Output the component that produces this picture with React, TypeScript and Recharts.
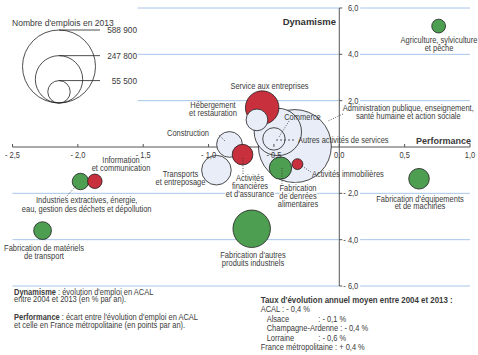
import React from 'react'
import { ScatterChart, Scatter, XAxis, YAxis, ZAxis, ReferenceLine } from 'recharts'

// sectors, biggest first so the small bubbles sit on top
const sectors = [
  'Administration publique, enseignement, santé humaine et action sociale',
  'Commerce',
  "Fabrication d'autres produits industriels",
  'Service aux entreprises',
  'Transports et entreposage',
  'Construction',
  'Autres activités de services',
  'Fabrication de denrées alimentaires',
  'Hébergement et restauration',
  "Activités financières et d'assurance",
  "Fabrication d'équipements et de machines",
  'Fabrication de matériels de transport',
  'Industries extractives, énergie, eau, gestion des déchets et dépollution',
  'Information et communication',
  'Agriculture, sylviculture et pêche',
  'Activités immobilières',
]
const performance = [-0.34, -0.47, -0.67, -0.59, -0.94, -0.84, -0.5, -0.45, -0.63, -0.74, 0.61, -2.27, -1.98, -1.87, 0.76, -0.32]
const dynamism = [0.04, 0.65, -3.53, 1.7, -1.0, 0.11, 0.35, -0.91, 1.17, -0.33, -1.37, -3.61, -1.49, -1.48, 5.22, -0.74]
const jobs = [588900, 247800, 155000, 124000, 97000, 73000, 55500, 55000, 52000, 47000, 47000, 35000, 30000, 23000, 21000, 13000]
const groups = ['pale', 'pale', 'green', 'red', 'pale', 'pale', 'pale', 'green', 'pale', 'red', 'green', 'green', 'green', 'red', 'green', 'red']

const legendJobs = [588900, 247800, 55500]
const legendLabels = ['588 900', '247 800', '55 500']

const xTicks = [-2.5, -2, -1.5, -1, -0.5, 0, 0.5, 1]
const xTickLabels = ['- 2,5', '- 2,0', '- 1,5', '- 1,0', '- 0,5', '0,0', '0,5', '1,0']
const yTicks = [6, 4, 2, -2, -4, -6]
const yTickLabels = ['6,0', '4,0', '2,0', '- 2,0', '- 4,0', '- 6,0']

const FILL: Record<string, string> = { pale: '#e8edf7', red: '#c8303d', green: '#4e9e52' }
const FONT = "'Liberation Sans', Arial, sans-serif"
const TXT = '#3a3a3a'
const GRID = '#a6c6e8'
const MAX_R = 36.5
const SX = 0.88 // no narrow font installed, squeeze horizontally

const data = sectors.map((name, i) => ({
  name,
  perf: performance[i],
  dyn: dynamism[i],
  jobs: jobs[i],
  group: groups[i],
}))

function Bubble(props: any) {
  const { cx, cy, payload } = props
  const r = typeof props.size === 'number' ? Math.sqrt(props.size / Math.PI) : props.width / 2
  return <circle cx={cx} cy={cy} r={r} fill={FILL[payload.group]} stroke="#1e1e1e" strokeWidth={0.8} />
}

function Lbl({ x, y, lines, anchor = 'middle', lh = 8, halo = false, size = 8.5, bold = false, sx = SX }: any) {
  return (
    <text
      transform={`translate(${x} ${y}) scale(${sx} 1)`} textAnchor={anchor} fontSize={size}
      fontWeight={bold ? 'bold' : 'normal'} fill={TXT} fontFamily={FONT}
      stroke={halo ? '#fff' : 'none'} strokeWidth={halo ? 2.5 : 0} paintOrder="stroke"
    >
      {lines.map((l: string, i: number) => (
        <tspan key={i} x={0} dy={i === 0 ? 0 : lh}>{l}</tspan>
      ))}
    </text>
  )
}

const leader = { stroke: '#333', strokeWidth: 0.8, strokeDasharray: '1 1.5' }

export default function App() {
  return (
    <div style={{ position: 'absolute', left: 0, top: 0, width: 478, height: 355, background: '#fff', fontFamily: FONT }}>
      <ScatterChart width={478} height={355} margin={{ top: 8, right: 8, bottom: 69, left: 12.5 }}>
        <XAxis type="number" dataKey="perf" domain={[-2.5, 1]} hide allowDataOverflow />
        <YAxis type="number" dataKey="dyn" domain={[-6, 6]} hide allowDataOverflow />
        <ZAxis type="number" dataKey="jobs" domain={[0, 588900]} range={[0, Math.PI * MAX_R * MAX_R]} />

        {yTicks.map(t => (
          <ReferenceLine key={`gl${t}`} zIndex={-50} ifOverflow="visible" stroke={GRID} strokeWidth={1}
            segment={[{ x: t > 0 ? -1.542 : -2.5, y: t }, { x: 0, y: t }]} />
        ))}
        {yTicks.map(t => (
          <ReferenceLine key={`gr${t}`} zIndex={-50} ifOverflow="visible" stroke={GRID} strokeWidth={1}
            segment={[{ x: 0.16, y: t }, { x: 1, y: t }]} />
        ))}
        <ReferenceLine zIndex={-40} ifOverflow="visible" stroke="#555" strokeWidth={1}
          segment={[{ x: 0, y: -6 }, { x: 0, y: 6 }]} />
        <ReferenceLine zIndex={-40} ifOverflow="visible" stroke="#555" strokeWidth={1}
          segment={[{ x: -2.5, y: 0 }, { x: 1, y: 0 }]} />

        <Scatter data={data} dataKey="dyn" shape={Bubble} isAnimationActive={false} />

        {xTicks.map((t, i) => (
          <ReferenceLine key={`xt${t}`} zIndex={2100} ifOverflow="visible" stroke="#555" strokeWidth={1}
            segment={[{ x: t, y: 0 }, { x: t, y: 0.13 }]}
            label={(p: any) => (
              <Lbl x={p.viewBox.x} y={p.viewBox.y + p.viewBox.height + 10.5} lines={[xTickLabels[i]]} />
            )} />
        ))}
        {yTicks.map((t, i) => (
          <ReferenceLine key={`yt${t}`} zIndex={2100} ifOverflow="visible" stroke="#555" strokeWidth={1}
            segment={[{ x: 0, y: t }, { x: 0.023, y: t }]}
            label={(p: any) => (
              <Lbl x={p.viewBox.x + 19} y={p.viewBox.y + 3} anchor="end" lines={[yTickLabels[i]]} />
            )} />
        ))}
      </ScatterChart>

      <svg width={478} height={355} style={{ position: 'absolute', left: 0, top: 0, pointerEvents: 'none' }} fontFamily={FONT}>
        {/* size legend */}
        <Lbl x={12} y={25.7} anchor="start" size={9} sx={0.95} lines={["Nombre d'emplois en 2013"]} />
        {legendJobs.map((n, i) => {
          const r = MAX_R * Math.sqrt(n / legendJobs[0])
          const top = 103 - 2 * r
          return (
            <g key={n}>
              <circle cx={59} cy={103 - r} r={r} fill="none" stroke="#222" strokeWidth={0.8} />
              <line x1={59} y1={top} x2={100} y2={top} stroke="#222" strokeWidth={0.8} />
              <Lbl x={137} y={top + 3} anchor="end" size={9} sx={0.92} lines={[legendLabels[i]]} />
            </g>
          )
        })}

        <text x={336} y={25} textAnchor="end" fontSize={9.5} fontWeight="bold" fill="#333">Dynamisme</text>
        <Lbl x={471} y={143.5} anchor="end" size={9.5} bold sx={0.95} lines={['Performance']} />

        {/* leaders */}
        <line x1={219} y1={135} x2={225} y2={141} {...leader} />
        <line x1={289} y1={121} x2={279} y2={137} {...leader} />
        <line x1={343} y1={114} x2={328} y2={121} {...leader} />
        <line x1={276} y1={140} x2={295} y2={140} stroke="#333" strokeWidth={0.8} strokeDasharray="2 2" />
        <line x1={243} y1={158} x2={243} y2={175} {...leader} />
        <line x1={282} y1={168} x2={282} y2={184} {...leader} />
        <line x1={302} y1={166} x2={311} y2={172} {...leader} />
        <line x1={65} y1={198} x2={76} y2={186} {...leader} />

        {/* sector labels */}
        <Lbl x={269.5} y={88.7} lines={['Service aux entreprises']} />
        <Lbl x={213} y={108} lines={['Hébergement', 'et restauration']} />
        <Lbl x={302.5} y={119.7} lines={['Commerce']} />
        <Lbl x={408.3} y={111.3} lines={['Administration publique, enseignement,', 'santé humaine et action sociale']} />
        <Lbl x={188} y={136.3} lines={['Construction']} />
        <Lbl x={298} y={143} anchor="start" lines={['Autres activités de services']} />
        <Lbl x={121} y={163} lines={['Information', 'et communication']} />
        <Lbl x={180.5} y={177.3} lines={['Transports', 'et entreposage']} />
        <Lbl x={250} y={181.3} halo lines={['Activités', 'financières', "et d'assurance"]} />
        <Lbl x={298} y={190.7} halo lines={['Fabrication', 'de denrées', 'alimentaires']} />
        <Lbl x={312} y={177} anchor="start" lines={['Activités immobilières']} />
        <Lbl x={420} y={201.7} lh={7.7} lines={["Fabrication d'équipements", 'et de machines']} />
        <Lbl x={86.7} y={203} lh={9.3} lines={['Industries extractives, énergie,', 'eau, gestion des déchets et dépollution']} />
        <Lbl x={44} y={251.3} lh={7.7} lines={['Fabrication de matériels', 'de transport']} />
        <Lbl x={253} y={258} lines={["Fabrication d'autres", 'produits industriels']} />
        <Lbl x={439} y={43} lh={7.7} lines={['Agriculture, sylviculture', 'et pêche']} />

        {/* notes */}
        <g transform={`translate(14 294.7) scale(${SX} 1)`}>
          <text x={0} y={0} fontSize={8.5} fill={TXT}>
            <tspan fontWeight="bold">Dynamisme</tspan> : évolution d'emploi en ACAL
            <tspan x={0} dy={7.7}>entre 2004 et 2013 (en % par an).</tspan>
          </text>
          <text x={0} y={25.6} fontSize={8.5} fill={TXT}>
            <tspan fontWeight="bold">Performance</tspan> : écart entre l'évolution d'emploi en ACAL
            <tspan x={0} dy={7.7}>et celle en France métropolitaine (en points par an).</tspan>
          </text>
        </g>
        <Lbl x={260.7} y={303} anchor="start" bold sx={0.93} lines={["Taux d'évolution annuel moyen entre 2004 et 2013 :"]} />
        <Lbl x={260.7} y={312.3} anchor="start" lines={['ACAL : - 0,4 %']} />
        <Lbl x={266.7} y={321.7} anchor="start" lines={['Alsace']} />
        <Lbl x={318.3} y={321.7} anchor="start" lines={[': - 0,1 %']} />
        <Lbl x={266.7} y={331} anchor="start" lines={['Champagne-Ardenne : - 0,4 %']} />
        <Lbl x={266.7} y={340.5} anchor="start" lines={['Lorraine']} />
        <Lbl x={318.3} y={340.5} anchor="start" lines={[': - 0,6 %']} />
        <Lbl x={260.7} y={349.7} anchor="start" lines={['France métropolitaine : + 0,4 %']} />
      </svg>
    </div>
  )
}
